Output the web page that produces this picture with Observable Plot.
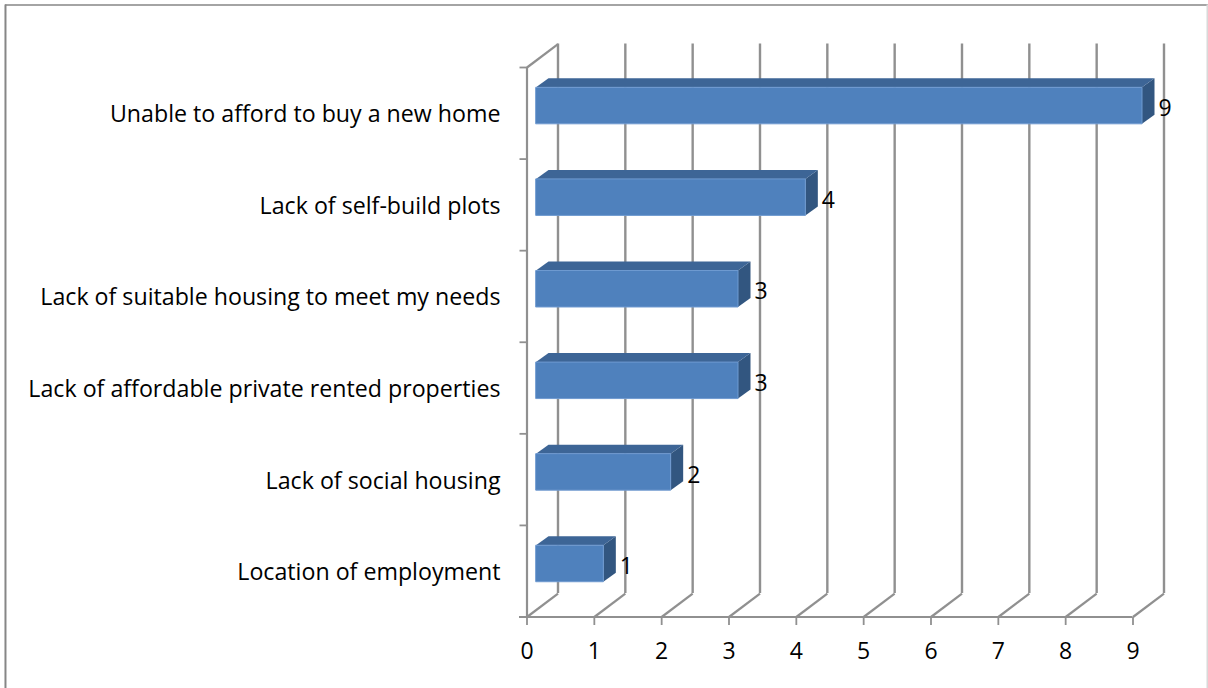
<!DOCTYPE html>
<html><head><meta charset="utf-8">
<script src="https://cdn.jsdelivr.net/npm/d3@7"></script>
<script src="https://cdn.jsdelivr.net/npm/@observablehq/plot@0.6"></script>
<style>html,body{margin:0;padding:0;background:#fff;overflow:hidden}svg{display:block}</style>
</head><body><div id="chart"></div>
<script>
const categories = ["Location of employment","Lack of social housing","Lack of affordable private rented properties","Lack of suitable housing to meet my needs","Lack of self-build plots","Unable to afford to buy a new home"];
const counts = [1,2,3,3,4,9];
const xTicks = [0,1,2,3,4,5,6,7,8,9];
const yTicks = [0,1,2,3,4,5,6];

const ux = 67.33, uy = 91.6;
const dX = 31/ux, dY = 23.5/uy;             // wall depth in data units
const bX = 12.5/ux, bY = 9/uy;              // bar depth
const x0 = 9/ux;                            // bar start shift
const low = 0.385, high = low + 36.5/uy;    // bar thickness within a band

const frontFaces=[],topFaces=[],sideFaces=[];
counts.forEach((v,i)=>{
  const xa=x0, xb=x0+v, ya=i+low, yb=i+high, id=i;
  frontFaces.push({id,x:xa,y:ya},{id,x:xb,y:ya},{id,x:xb,y:yb},{id,x:xa,y:yb});
  topFaces.push({id,x:xa,y:yb},{id,x:xb,y:yb},{id,x:xb+bX,y:yb+bY},{id,x:xa+bX,y:yb+bY});
  sideFaces.push({id,x:xb,y:ya},{id,x:xb+bX,y:ya+bY},{id,x:xb+bX,y:yb+bY},{id,x:xb,y:yb});
});
const poly=(d,fill,stroke)=>Plot.line(d,{x:"x",y:"y",z:"id",fill,stroke:stroke||"none",strokeWidth:1,curve:"linear-closed"});
const grid="#909090";
const font="'Open Sans',sans-serif";
const fL=-521.5/ux, fR=9+75.5/ux, fT=6+62.5/uy, fB=-72/uy;

const chart = Plot.plot({
  width:1208,height:688,
  marginLeft:526.5,marginRight:75.5,marginTop:67,marginBottom:71.5,
  x:{domain:[0,9],axis:null},
  y:{domain:[0,6],axis:null},
  style:{fontFamily:font,background:"#fff",overflow:"hidden"},
  marks:[
    Plot.ruleY([fT],{x1:fL,x2:fR,stroke:"#868686",strokeWidth:1.6}),
    Plot.ruleX([fL],{y1:fB,y2:fT,stroke:"#868686",strokeWidth:2}),
    Plot.ruleX([fR],{y1:fB,y2:fT,dx:-1,stroke:"#d9d9d9",strokeWidth:2}),
    // back wall gridlines
    Plot.ruleX(xTicks,{x:d=>d,y1:0,y2:6,dx:dX*ux,dy:-dY*uy,stroke:grid,strokeWidth:2.4}),
    // floor diagonals
    Plot.link(xTicks,{x1:d=>d,x2:d=>d+dX,y1:0,y2:dY,stroke:grid,strokeWidth:2.2}),
    // top-left diagonal
    Plot.link([6],{x1:0,x2:dX,y1:d=>d,y2:d=>d+dY,stroke:grid,strokeWidth:2.2}),
    // left wall and floor
    Plot.ruleX([0],{y1:0,y2:6,stroke:grid,strokeWidth:2.2}),
    Plot.ruleY([0],{x1:-7.5/ux,x2:9,stroke:grid,strokeWidth:2.2}),
    // ticks
    Plot.link(yTicks,{x1:-7.5/ux,x2:0,y1:d=>d,y2:d=>d,stroke:grid,strokeWidth:1.8}),
    Plot.link(xTicks,{x1:d=>d,x2:d=>d,y1:-8/uy,y2:0,stroke:grid,strokeWidth:1.8}),
    // bars
    poly(sideFaces,"#325680"),
    poly(topFaces,"#3d6596"),
    poly(frontFaces,"#4f81bd","#6f9ad0"),
    // labels
    Plot.text(xTicks,{x:d=>d,y:0,dy:35,text:d=>String(d),fontSize:23,fill:"#000",textAnchor:"middle"}),
    Plot.text(categories,{x:0,y:(d,i)=>i+0.5,dx:-26.5,dy:1.5,text:d=>d,fontSize:23.2,fill:"#000",textAnchor:"end"}),
    Plot.text(counts,{x:(d,i)=>x0+d+bX,y:(d,i)=>i+low+18/uy,dx:4,dy:3,text:d=>String(d),fontSize:23,fill:"#000",textAnchor:"start"})
  ]
});
document.getElementById("chart").append(chart);
</script></body></html>
